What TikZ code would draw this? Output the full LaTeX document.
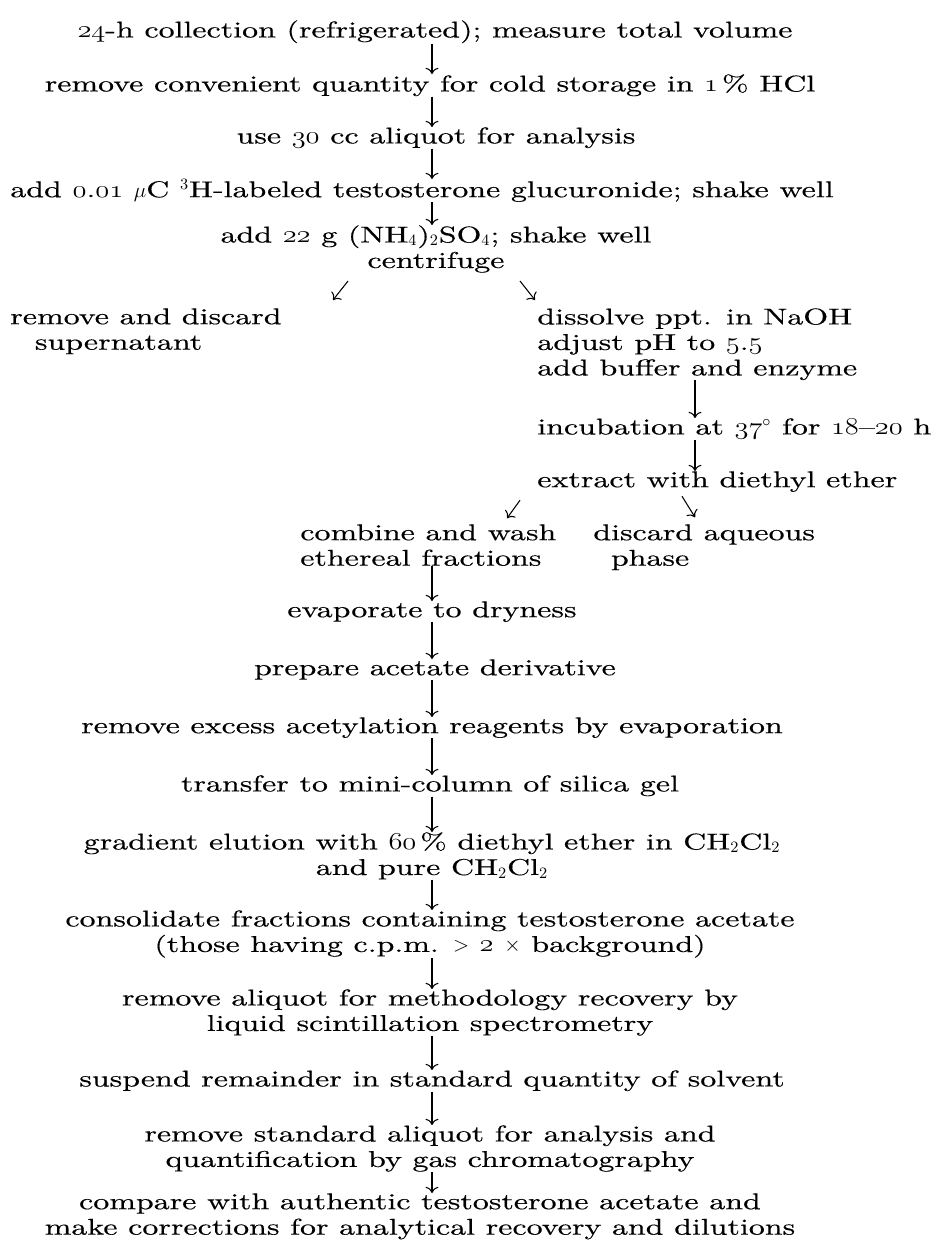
\documentclass[tikz,border=0pt]{standalone}
\usepackage{fontspec}
\setmainfont{lmroman10-regular.otf}[FakeStretch=1.4, FakeBold=0.4]
\usepackage{amsmath}
\usepackage{graphicx}
\usetikzlibrary{arrows.meta}
% old style figures taken from the math italic font
\newcommand\ofig[1]{\scalebox{1.35}[1.15]{\usefont{OML}{cmm}{m}{it}#1}}

\begin{document}
\begin{tikzpicture}[x=0.02cm, y=-0.02cm,
  stage/.style={inner sep=0pt, align=center, font=\fontsize{13}{14.5}\selectfont},
  lstage/.style={stage, align=left},
  flow/.style={-{To[scale=1.2]}, semithick}]
\useasboundingbox (0,0) rectangle (949,1240);

% Columns of the arrows
\coordinate (spine) at (432,0);
\coordinate (spineR) at (695,0);

% Collection and precipitation
\node[stage, anchor=north] (coll) at (435,20) {\ofig{24}-h collection (refrigerated); measure total volume};
\node[stage, anchor=north] (store) at (430,74) {remove convenient quantity for cold storage in \ofig{1}\,\% HCl};
\node[stage, anchor=north] (aliq) at (436,127) {use \ofig{30} cc aliquot for analysis};
\node[stage, anchor=north] (label) at (422,179) {add \ofig{0}.\ofig{01} $\mu$C $^{3}$H-labeled testosterone glucuronide; shake well};
\node[stage, anchor=north] (salt) at (436,225) {add \ofig{22} g (NH$_4$)$_2$SO$_4$; shake well\\centrifuge};

% Two branches
\node[lstage, anchor=north west] (super) at (10,308) {remove and discard\\\hspace*{14pt}supernatant};
\node[lstage, anchor=north west] (ppt) at (537,308) {dissolve ppt. in NaOH\\adjust pH to \ofig{5}.\ofig{5}\\add buffer and enzyme};
\node[lstage, anchor=north west] (incub) at (537,418) {incubation at \ofig{37}$^{\circ}$ for \ofig{18}--\ofig{20} h};
\node[lstage, anchor=north west] (extr) at (537,471) {extract with diethyl ether};
\node[lstage, anchor=north west] (ether) at (300,524) {combine and wash\\ethereal fractions};
\node[lstage, anchor=north west] (aqu) at (593,524) {discard aqueous\\\hspace*{10pt}phase};

% Derivative and clean-up
\node[stage, anchor=north] (dry) at (432,601) {evaporate to dryness};
\node[stage, anchor=north] (acet) at (435,659) {prepare acetate derivative};
\node[stage, anchor=north] (excess) at (432,717) {remove excess acetylation reagents by evaporation};
\node[stage, anchor=north] (silica) at (430,775) {transfer to mini-column of silica gel};
\node[stage, anchor=north] (grad) at (432,832) {gradient elution with \ofig{60}\,\% diethyl ether in CH$_2$Cl$_2$\\and pure CH$_2$Cl$_2$};
\node[stage, anchor=north] (cons) at (430,910) {consolidate fractions containing testosterone acetate\\(those having c.p.m. $>$ \ofig{2} $\times$ background)};
\node[stage, anchor=north] (lsc) at (430,989) {remove aliquot for methodology recovery by\\liquid scintillation spectrometry};
\node[stage, anchor=north] (solv) at (432,1070) {suspend remainder in standard quantity of solvent};
\node[stage, anchor=north] (gc) at (430,1125) {remove standard aliquot for analysis and\\quantification by gas chromatography};
\node[stage, anchor=north] (comp) at (420,1193) {compare with authentic testosterone acetate and\\make corrections for analytical recovery and dilutions};

% Main arrows
\foreach \a/\b in {coll/store, store/aliq, aliq/label, label/salt, ether/dry, dry/acet, acet/excess,
                   excess/silica, silica/grad, grad/cons, cons/lsc, lsc/solv, solv/gc, gc/comp}
  \draw[flow] (\a.south -| spine) -- (\b.north -| spine);
\foreach \a/\b in {ppt/incub, incub/extr}
  \draw[flow] (\a.south -| spineR) -- (\b.north -| spineR);

% Branch arrows
\draw[flow] ([shift={(-88,8)}]salt.south) -- ++(-15,19);
\draw[flow] ([shift={(84,8)}]salt.south) -- ++(15,19);
\draw[flow] ([shift={(-17,8)}]extr.south west) -- ++(-13,18);
\draw[flow] ([shift={(145,4)}]extr.south west) -- ++(13,21);
\end{tikzpicture}
\end{document}
